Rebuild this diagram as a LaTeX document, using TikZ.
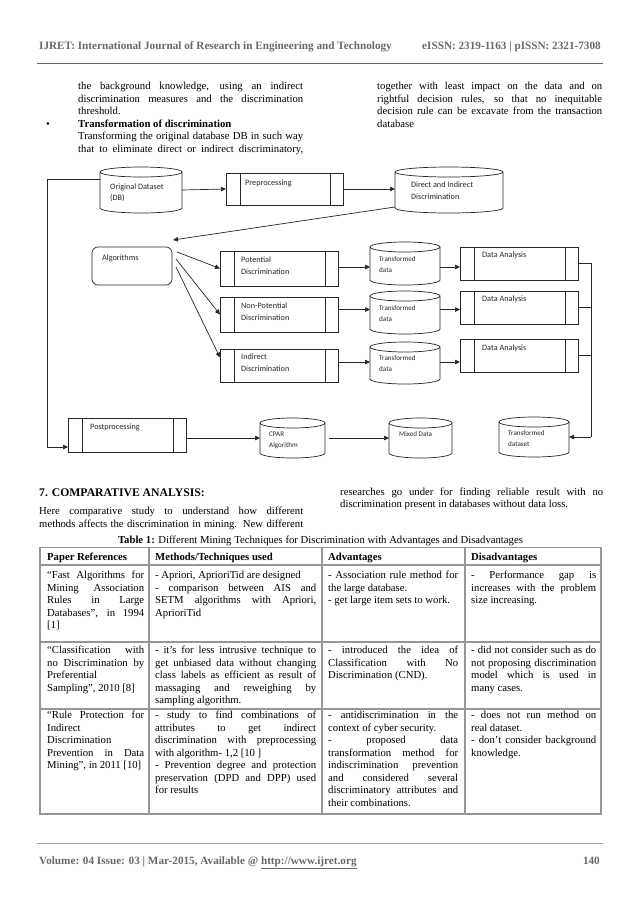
\documentclass[tikz,border=0pt]{standalone}
\usepackage{fontspec}
\setmainfont{Liberation Serif}
\newfontfamily\dsans{Carlito}
\usetikzlibrary{arrows.meta,calc}
\definecolor{hdrgray}{RGB}{105,105,105}
\definecolor{tblgray}{RGB}{150,150,150}
\newcommand\JL[1]{\hbox to\hsize{#1}}
\newcommand\LL[1]{\hbox to\hsize{#1\hfil}}
\newcommand\Para[3]{\vtop{\hsize=#1\relax\baselineskip=#2\relax\lineskiplimit=-20pt\lineskip=0pt\relax #3}}
\newcommand\DL[3][11.5pt]{\vtop{\baselineskip=#1\relax\lineskiplimit=-20pt\lineskip=0pt\hbox{#2}\hbox{#3}}}
\newcommand\mkcyl[5]{%
  \pgfmathsetmacro\mycx{(#2+#4)/2}%
  \pgfmathsetmacro\myrx{(#4-#2)/2}%
  \pgfmathsetmacro\mycy{(#3+#5)/2}%
  \pgfmathsetmacro\myw{#4-#2}%
  \pgfmathsetmacro\myh{#5-#3}%
  \node[cylbox,minimum width=\myw pt,minimum height=\myh pt] (#1) at (\mycx,\mycy) {};
  \draw[dl] (#2,#3+5) -- (#2,#5-5) arc[start angle=180,end angle=360,x radius=\myrx pt,y radius=5pt] -- (#4,#3+5);
  \draw[dl] (\mycx,#3+5) ellipse[x radius=\myrx pt,y radius=5pt];
}
\newcommand\mkproc[5]{%
  \pgfmathsetmacro\mycx{(#2+#4)/2}%
  \pgfmathsetmacro\mycy{(#3+#5)/2}%
  \pgfmathsetmacro\myw{#4-#2}%
  \pgfmathsetmacro\myh{#5-#3}%
  \node[procbox,minimum width=\myw pt,minimum height=\myh pt] (#1) at (\mycx,\mycy) {};
  \draw[dl] ([xshift=14pt]#1.north west) -- ([xshift=14pt]#1.south west)
            ([xshift=-13pt]#1.north east) -- ([xshift=-13pt]#1.south east);
}
\begin{document}
\begin{tikzpicture}[x=1pt,y=-1pt,
  dl/.style={draw=black!85,line width=0.7pt},
  arr/.style={dl,-{Triangle[length=5pt,width=4.5pt]}},
  cylbox/.style={rectangle,draw=none,inner sep=0pt,outer sep=0pt},
  procbox/.style={rectangle,dl,inner sep=0pt,outer sep=0pt},
  roundbox/.style={rectangle,dl,rounded corners=6pt,inner sep=0pt,outer sep=0pt},
  dtx/.style={font=\dsans\fontsize{8.2}{10}\selectfont,text=black!85,inner sep=0pt,anchor=base west},
  dtxs/.style={dtx,font=\dsans\fontsize{7.1}{9}\selectfont},
  body/.style={font=\fontsize{10.7}{12.5}\selectfont,inner sep=0pt,anchor=base west},
  hdr/.style={font=\fontsize{11.2}{13}\selectfont\bfseries,text=hdrgray,inner sep=0pt},
  sec/.style={font=\fontsize{11.7}{14}\selectfont\bfseries,inner sep=0pt,anchor=base west},
  tbl/.style={draw=tblgray,line width=1.2pt},
  rulel/.style={draw=hdrgray,line width=0.8pt}
]
\fill[white] (0,0) rectangle (638,903);
\useasboundingbox (0,0) rectangle (638,903);

% header
\node[hdr,anchor=base west] (hl) at (39,49) {IJRET: International Journal of Research in Engineering and Technology};
\node[hdr,anchor=base east] (hr) at (601,49) {eISSN: 2319-1163 | pISSN: 2321-7308};
\draw[rulel] (37,63) -- (603,63);

% top text
\node[body] (p1) at (78,89.5) {\Para{225pt}{12.5pt}{\JL{the background knowledge, using an indirect}\JL{discrimination measures and the discrimination}\LL{threshold.}}};
\node[body] (bul) at (46,127) {•};
\node[body] (p2) at (78,127) {\Para{225pt}{12.5pt}{\LL{\bfseries Transformation of discrimination}\JL{Transforming the original database DB in such way}\JL{that to eliminate direct or indirect discriminatory,}}};
\node[body] (p3) at (377,89.5) {\Para{225pt}{12.5pt}{\JL{together with least impact on the data and on}\JL{rightful decision rules, so that no inequitable}\JL{decision rule can be excavate from the transaction}\LL{database}}};

% diagram shapes
\mkcyl{orig}{100}{167}{182}{213}
\mkproc{prep}{226}{173}{343}{205}
\mkcyl{direct}{395}{167}{503}{213}
\node[roundbox,minimum width=80pt,minimum height=38pt] (algo) at (132,266) {};
\mkproc{pot}{220}{251}{338}{286}
\mkproc{nonpot}{220}{297}{338}{332}
\mkproc{indirect}{220}{349}{338}{382}
\mkcyl{td1}{370}{242}{440}{285}
\mkcyl{td2}{370}{291}{440}{334}
\mkcyl{td3}{370}{342}{440}{384}
\mkproc{da1}{460}{247}{578}{280}
\mkproc{da2}{460}{291}{578}{324}
\mkproc{da3}{460}{339}{578}{372}
\mkproc{post}{68}{418}{186}{452}
\mkcyl{cpar}{260}{418}{325}{458}
\mkcyl{mixed}{389}{418}{452}{458}
\mkcyl{tds}{499}{417}{569}{457}

% diagram texts
\node[dtx] (t-orig) at (110,189) {\DL[11.5pt]{Original Dataset}{(DB)}};
\node[dtx] (t-prep) at (245,185) {Preprocessing};
\node[dtx] (t-dir) at (411,187) {\DL[12pt]{Direct and Indirect}{Discrimination}};
\node[dtx] (t-algo) at (102,260) {Algorithms};
\node[dtx] (t-pot) at (241,262) {\DL[12.5pt]{Potential}{Discrimination}};
\node[dtx] (t-np) at (241,308) {\DL[12.5pt]{Non-Potential}{Discrimination}};
\node[dtx] (t-ind) at (241,359) {\DL[12.5pt]{Indirect}{Discrimination}};
\node[dtxs] (t-td1) at (379,261) {\DL[11pt]{Transformed}{data}};
\node[dtxs] (t-td2) at (379,310) {\DL[11pt]{Transformed}{data}};
\node[dtxs] (t-td3) at (379,360) {\DL[11pt]{Transformed}{data}};
\node[dtx] (t-da1) at (482,257) {Data Analysis};
\node[dtx] (t-da2) at (482,301) {Data Analysis};
\node[dtx] (t-da3) at (482,350) {Data Analysis};
\node[dtx] (t-post) at (90,429) {Postprocessing};
\node[dtxs] (t-cpar) at (269,436) {\DL[11pt]{CPAR}{Algorithm}};
\node[dtxs] (t-mix) at (399,436) {Mixed Data};
\node[dtxs] (t-tds) at (508,435) {\DL[11pt]{Transformed}{dataset}};

% connectors
\draw[arr] (orig.east) -- (prep.west);
\draw[arr] (prep.east) -- (prep.east -| direct.west);
\draw[arr] ([yshift=-17pt]direct.west) -- ([xshift=1pt,yshift=7pt]algo.north east);
\draw[arr] ([xshift=5pt,yshift=-5pt]algo.north east) -- (pot.west);
\draw[arr] ([xshift=4pt,yshift=-12pt]algo.north east) -- (nonpot.west);
\draw[arr] ([xshift=4pt,yshift=-20pt]algo.north east) -- ([yshift=8pt]indirect.west);
\coordinate (r1) at ($(pot.east)+(0,-1.5)$);
\coordinate (r2) at ($(nonpot.east)+(0,-5)$);
\coordinate (r3) at ($(indirect.east)+(0,-3.5)$);
\draw[arr] (r1) -- (r1 -| td1.west);
\draw[arr] (r2) -- (r2 -| td2.west);
\draw[arr] (r3) -- (r3 -| td3.west);
\draw[arr] (r1 -| td1.east) -- (r1 -| da1.west);
\draw[arr] (r2 -| td2.east) -- (r2 -| da2.west);
\draw[arr] (r3 -| td3.east) -- (r3 -| da3.west);
\coordinate (busR) at (591,437);
\draw[dl] (da1.east) -| (busR);
\draw[dl] (da2.east) -- (da2.east -| busR);
\draw[dl] (da3.east) -- (da3.east -| busR);
\draw[arr] (busR) -- (busR -| tds.east);
\coordinate (busL) at (47,447);
\draw[arr] ([yshift=11pt]orig.west) -| (busL) -- (busL -| post.west);
\coordinate (rb) at ($(post.east)+(0,3)$);
\draw[arr] (rb) -- (rb -| cpar.west);
\draw[arr] ([xshift=4pt]cpar.east) -- (mixed.west);

% section 7
\node[sec] (h7) at (39,496) {7. COMPARATIVE ANALYSIS:};
\node[body] (p4) at (39,514.5) {\Para{264pt}{12.5pt}{\JL{Here comparative study to understand how different}\JL{methods affects the discrimination in mining. New different}}};
\node[body] (p5) at (340,495.5) {\Para{263pt}{12pt}{\JL{researches go under for finding reliable result with no}\LL{discrimination present in databases without data loss.}}};

% table caption
\node[body,anchor=base] (cap) at (320.5,543) {\textbf{Table 1:} Different Mining Techniques for Discrimination with Advantages and Disadvantages};

% table grid
\draw[tbl] (40,547.5) rectangle (601,814);
\draw[tbl] (40,565) -- (601,565);
\draw[tbl] (40,642) -- (601,642);
\draw[tbl] (40,709) -- (601,709);
\draw[tbl] (149,547.5) -- (149,814);
\draw[tbl] (322,547.5) -- (322,814);
\draw[tbl] (465,547.5) -- (465,814);

% table header
\node[body] (h1) at (47,560) {\bfseries Paper References};
\node[body] (h2) at (155,560) {\bfseries Methods/Techniques used};
\node[body] (h3) at (328,560) {\bfseries Advantages};
\node[body] (h4) at (471,560) {\bfseries Disadvantages};

% row 1
\node[body] (c11) at (47,578.5) {\Para{97pt}{12.5pt}{\JL{“Fast Algorithms for}\JL{Mining Association}\JL{Rules in Large}\JL{Databases”, in 1994}\LL{[1]}}};
\node[body] (c12) at (155,578.5) {\Para{161pt}{12.5pt}{\LL{- Apriori, AprioriTid are designed}\JL{- comparison between AIS and}\JL{SETM algorithms with Apriori,}\LL{AprioriTid}}};
\node[body] (c13) at (328,578.5) {\Para{130pt}{12.5pt}{\JL{- Association rule method for}\LL{the large database.}\LL{- get large item sets to work.}}};
\node[body] (c14) at (471,578.5) {\Para{125pt}{12.5pt}{\JL{- Performance gap is}\JL{increases with the problem}\LL{size increasing.}}};

% row 2
\node[body] (c21) at (47,653.5) {\Para{97pt}{12.5pt}{\JL{“Classification with}\JL{no Discrimination by}\LL{Preferential}\LL{Sampling”, 2010 [8]}}};
\node[body] (c22) at (155,653.5) {\Para{161pt}{12.5pt}{\JL{- it’s for less intrusive technique to}\JL{get unbiased data without changing}\JL{class labels as efficient as result of}\JL{massaging and reweighing by}\LL{sampling algorithm.}}};
\node[body] (c23) at (328,653.5) {\Para{130pt}{12.5pt}{\JL{- introduced the idea of}\JL{Classification with No}\LL{Discrimination (CND).}}};
\node[body] (c24) at (471,653.5) {\Para{125pt}{12.5pt}{\JL{- did not consider such as do}\JL{not proposing discrimination}\JL{model which is used in}\LL{many cases.}}};

% row 3
\node[body] (c31) at (47,718.5) {\Para{97pt}{12.5pt}{\JL{“Rule Protection for}\LL{Indirect}\LL{Discrimination}\JL{Prevention in Data}\LL{Mining”, in 2011 [10]}}};
\node[body] (c32) at (155,718.5) {\Para{161pt}{12.5pt}{\JL{- study to find combinations of}\JL{attributes to get indirect}\JL{discrimination with preprocessing}\LL{with algorithm- 1,2 [10 ]}\JL{- Prevention degree and protection}\JL{preservation (DPD and DPP) used}\LL{for results}}};
\node[body] (c33) at (328,718.5) {\Para{130pt}{12.5pt}{\JL{- antidiscrimination in the}\LL{context of cyber security.}\JL{- proposed data}\JL{transformation method for}\JL{indiscrimination prevention}\JL{and considered several}\JL{discriminatory attributes and}\LL{their combinations.}}};
\node[body] (c34) at (471,718.5) {\Para{125pt}{12.5pt}{\JL{- does not run method on}\LL{real dataset.}\JL{- don’t consider background}\LL{knowledge.}}};

% footer
\draw[draw=hdrgray!60,line width=0.7pt] (37,843) -- (603,843);
\node[hdr,anchor=base west] (foot) at (39,864) {Volume: 04 Issue: 03 | Mar-2015, Available @ \underline{http://www.ijret.org}};
\node[hdr,anchor=base east] (pg) at (600,864) {140};
\end{tikzpicture}
\end{document}
